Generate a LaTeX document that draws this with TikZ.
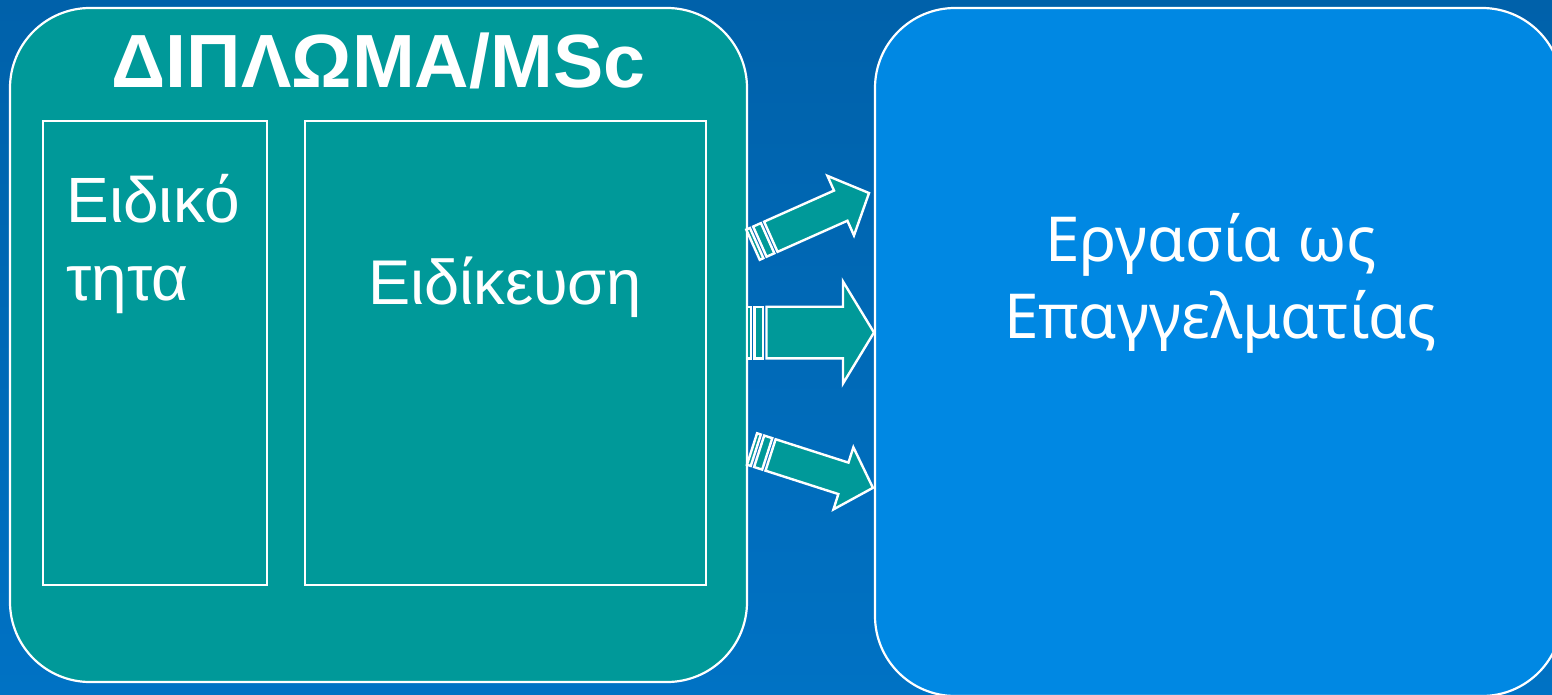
\documentclass[tikz,border=0pt]{standalone}
\usepackage{fontspec}
\setmainfont{Liberation Sans}
\newfontfamily\rightfont{Noto Sans}

\definecolor{bgtop}{RGB}{0,97,170}
\definecolor{bgbot}{RGB}{0,114,196}
\definecolor{tealbox}{RGB}{0,153,153}
\definecolor{bluebox}{RGB}{0,136,227}

% striped block arrow: origin, angle, width factor
\newcommand{\stripearrow}[3]{%
  \begin{scope}[shift={#1},rotate=#2,yscale=#3]
    \draw[arrowline] (0,-25.8) rectangle (4,25.8);
    \draw[arrowline] (7.5,-25.8) rectangle (16,25.8);
    \draw[arrowline] (19.5,-25.8) -- (96,-25.8) -- (96,-51) -- (127,0)
      -- (96,51) -- (96,25.8) -- (19.5,25.8) -- cycle;
  \end{scope}}

\begin{document}
\begin{tikzpicture}[x=0.5pt,y=-0.5pt,
    box/.style={draw=white,line width=1.1pt,rounded corners=40pt},
    inbox/.style={draw=white,line width=1.1pt},
    arrowline/.style={draw=white,line width=1.2pt,fill=tealbox,line join=miter}]

  \useasboundingbox (0,0) rectangle (1552,695);
  \clip (0,0) rectangle (1552,695);
  \shade[top color=bgtop,bottom color=bgbot] (0,0) rectangle (1552,695);

  \node[box,fill=tealbox,minimum width=368.5pt,minimum height=337pt] (dipl) at (378.5,345) {};
  \node[box,fill=bluebox,minimum width=343.5pt,minimum height=344pt] (work) at (1218.5,352) {};
  \node[inbox,minimum width=112pt,minimum height=232pt] (spec) at (155,353) {};
  \node[inbox,minimum width=200.5pt,minimum height=232pt] (focus) at (505.5,353) {};

  \begin{scope}[every node/.style={text=white,inner sep=0pt}]
    \node[anchor=base,font=\fontsize{37.7}{40}\selectfont\bfseries] (title) at (378.5,88) {ΔΙΠΛΩΜΑ/MSc};
    \node[anchor=base west,font=\fontsize{32}{38}\selectfont] (t1) at (66,223) {Ειδικό};
    \node[anchor=base west,font=\fontsize{32}{38}\selectfont] (t2) at (66,300) {τητα};
    \node[anchor=base,font=\fontsize{31.6}{38}\selectfont] (t3) at (505,305) {Ειδίκευση};
    \node[anchor=base,font=\rightfont\fontsize{31}{36}\selectfont] (t4) at (1211,262) {Εργασία ως};
    \node[anchor=base,font=\rightfont\fontsize{31}{36}\selectfont] (t5) at (1220.5,338) {Επαγγελματίας};
  \end{scope}

  \stripearrow{(753,244.7)}{24}{0.64}
  \stripearrow{(747,332.5)}{0}{1}
  \stripearrow{(752,449)}{-17.8}{0.64}

\end{tikzpicture}
\end{document}
